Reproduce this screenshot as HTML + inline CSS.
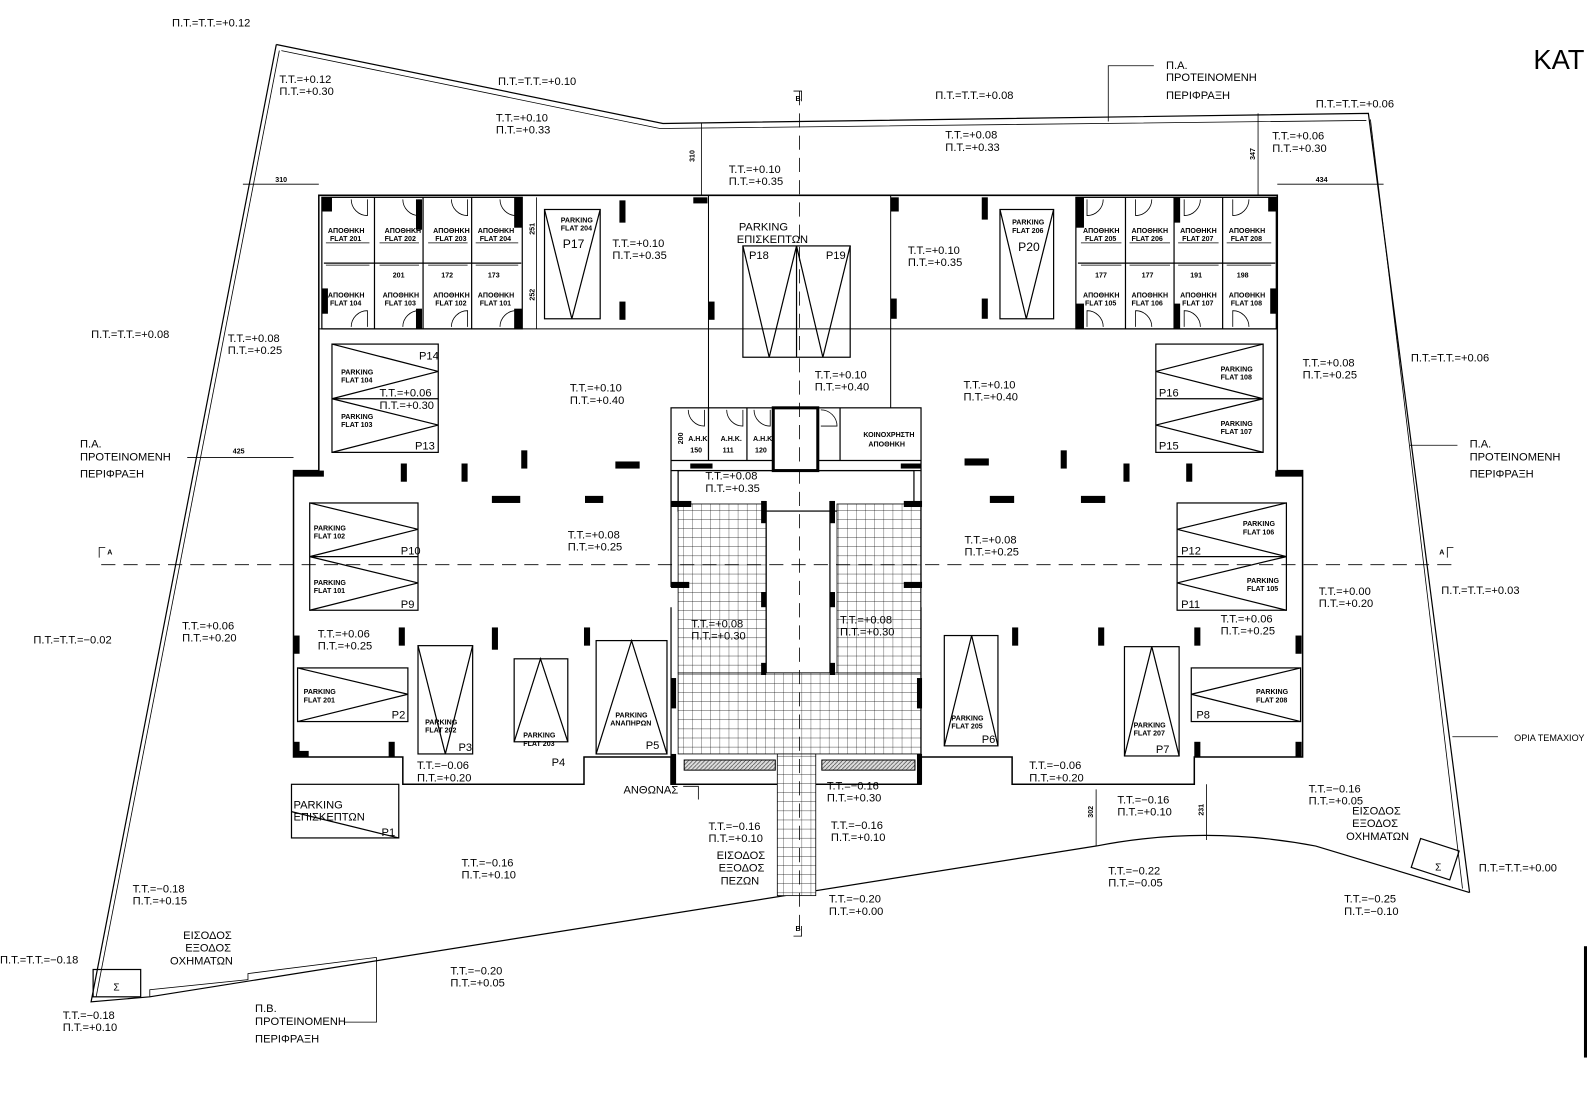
<!DOCTYPE html>
<html><head><meta charset="utf-8"><style>
html,body{margin:0;padding:0;background:#fff}
svg{display:block}
text{font-family:"Liberation Sans",sans-serif;font-size:11px;fill:#000}
.s{font-size:7px;font-weight:bold}
.m{font-size:9px}
.b{font-size:12px}
</style></head><body>
<svg width="1587" height="1096" viewBox="0 0 1568 1083" preserveAspectRatio="none" xmlns="http://www.w3.org/2000/svg">
<defs>
<pattern id="tile" width="9" height="9" patternUnits="userSpaceOnUse">
<rect width="9" height="9" fill="#fff"/><path d="M0 0H9M0 0V9" stroke="#000" stroke-width="0.6"/>
</pattern>
<pattern id="hat" width="4" height="4" patternUnits="userSpaceOnUse"><rect width="4" height="4" fill="#ddd"/><path d="M0 4L4 0" stroke="#555" stroke-width="0.8"/></pattern>
</defs>
<g fill="none" stroke="#000" stroke-width="1.2">
<path d="M273 44 L655 122 L1352 112 L1452 882 M1452 882 L1300 836 Q1190 815 1083 836 L148 985 L90 990 L273 44"/>
<path d="M278 50 L652 127 L1350 119" stroke-width="0.8"/>
<path d="M1354 118 L1445 878" stroke-width="0.8"/>
<path d="M95 985 L276 50" stroke-width="0.8"/>
<path d="M148 985 L148 978 L245 968 L245 962 L372 946" stroke-width="0.8"/>
<rect x="92" y="958" width="47" height="27"/>
<rect x="1398" y="834" width="40" height="30" transform="rotate(18 1418 849)"/>
<path d="M315 193 H1262 V465 H1287 V748 H1180 V775 H1000 V748 H910 V775 H663 V748 H577 V775 H398 V748 H290 V465 H315 Z" stroke-width="1.5"/>
<path d="M315 325 H1262" stroke-width="1"/>
<path d="M700 193 V403 M880 193 V403" stroke-width="1"/>
<rect x="318" y="195" width="198" height="130"/>
<path d="M320 260 H515 M370 195 V325 M418 195 V325 M466 195 V325"/>
<path d="M322 240 H365 M375 240 H414 M423 240 H462 M470 240 H512 M322 262 H365 M375 262 H414 M423 262 H462 M470 262 H512" stroke-width="0.7"/>
<rect x="1063" y="195" width="198" height="130"/>
<path d="M1065 260 H1260 M1112 195 V325 M1160 195 V325 M1208 195 V325"/>
<path d="M1068 240 H1108 M1116 240 H1156 M1164 240 H1204 M1212 240 H1256 M1068 262 H1108 M1116 262 H1156 M1164 262 H1204 M1212 262 H1256" stroke-width="0.7"/>
<g stroke-width="0.8">
<path d="M347 197 A16 16 0 0 0 363 213 V197"/><path d="M398 197 A16 16 0 0 0 414 213 V197"/><path d="M446 197 A16 16 0 0 0 462 213 V197"/><path d="M494 197 A16 16 0 0 0 510 213 V197"/>
<path d="M347 323 A16 16 0 0 1 363 307 V323"/><path d="M398 323 A16 16 0 0 1 414 307 V323"/><path d="M446 323 A16 16 0 0 1 462 307 V323"/><path d="M494 323 A16 16 0 0 1 510 307 V323"/>
<path d="M1090 197 A16 16 0 0 1 1074 213 V197"/><path d="M1138 197 A16 16 0 0 1 1122 213 V197"/><path d="M1186 197 A16 16 0 0 1 1170 213 V197"/><path d="M1234 197 A16 16 0 0 1 1218 213 V197"/>
<path d="M1090 323 A16 16 0 0 0 1074 307 V323"/><path d="M1138 323 A16 16 0 0 0 1122 307 V323"/><path d="M1186 323 A16 16 0 0 0 1170 307 V323"/><path d="M1234 323 A16 16 0 0 0 1218 307 V323"/>
<path d="M680 405 A16 16 0 0 0 696 421 V405"/><path d="M718 405 A16 16 0 0 0 734 421 V405"/><path d="M745 405 A16 16 0 0 0 761 421 V405"/><path d="M811 405 A16 16 0 0 1 827 421 H811"/>
<path d="M698 500 A16 16 0 0 1 714 516 H698 V500"/><path d="M875 520 A16 16 0 0 0 891 536 V520"/>
</g>
<rect x="663" y="403" width="247" height="62"/>
<path d="M700 403 V455 M738 403 V455 M765 403 V465 M808 403 V465 M830 403 V455 M663 455 H910"/>
<rect x="670" y="465" width="233" height="40"/>
<path d="M663 465 V580 M910 465 V580 M663 600 V775 M910 600 V775 M757 495 V665 M820 495 V665 M757 665 H820"/>
<rect x="538" y="207" width="55" height="108"/><path d="M538 207 L565 315 L593 207"/>
<rect x="734" y="243" width="106" height="110"/><path d="M787 243 V353 M734 243 L760 353 L787 243 M787 243 L813 353 L840 243"/>
<rect x="988" y="207" width="53" height="108"/><path d="M988 207 L1014 315 L1041 207"/>
<rect x="328" y="340" width="105" height="107"/><path d="M328 394 H433 M328 340 L433 367 L328 394 L433 420 L328 447"/>
<rect x="1142" y="340" width="106" height="107"/><path d="M1142 394 H1248 M1248 340 L1142 367 L1248 394 L1142 420 L1248 447"/>
<rect x="306" y="497" width="107" height="106"/><path d="M306 550 H413 M306 497 L413 523 L306 550 L413 576 L306 603"/>
<rect x="1163" y="497" width="108" height="106"/><path d="M1163 550 H1271 M1271 497 L1163 523 L1271 550 L1163 576 L1271 603"/>
<rect x="294" y="660" width="109" height="53"/><path d="M294 660 L403 686 L294 713"/>
<rect x="413" y="638" width="54" height="107"/><path d="M413 638 L440 745 L467 638"/>
<rect x="508" y="651" width="53" height="82"/><path d="M508 733 L534 651 L561 733"/>
<rect x="589" y="633" width="70" height="112"/><path d="M589 745 L624 633 L659 745"/>
<rect x="933" y="628" width="53" height="109"/><path d="M933 737 L960 628 L986 737"/>
<rect x="1111" y="639" width="54" height="108"/><path d="M1111 747 L1138 639 L1165 747"/>
<rect x="1177" y="660" width="108" height="53"/><path d="M1285 660 L1177 686 L1285 713"/>
<rect x="288" y="775" width="106" height="53"/><path d="M288 802 L394 828" />
<path d="M1095 120 V65 H1140 M185 452 H290 M240 182 H315 M1262 182 H1367 M693 122 V193 M1243 112 V193 M1083 780 V836 M1192 775 V830 M1393 440 H1440 M1435 728 H1480 M372 946 V1010 H340 M675 777 H690 V790 M530 195 V325" stroke-width="0.8"/>
</g>
<rect x="670" y="498" width="87" height="167" fill="url(#tile)" stroke="#000" stroke-width="0.8"/>
<rect x="827" y="498" width="83" height="167" fill="url(#tile)" stroke="#000" stroke-width="0.8"/>
<rect x="670" y="665" width="240" height="80" fill="url(#tile)" stroke="#000" stroke-width="0.8"/>
<rect x="768" y="745" width="38" height="140" fill="url(#tile)" stroke="#000" stroke-width="0.8"/>
<rect x="676" y="751" width="90" height="10" fill="url(#hat)" stroke="#000"/>
<rect x="812" y="751" width="92" height="10" fill="url(#hat)" stroke="#000"/>
<rect x="764" y="403" width="44" height="62" fill="#fff" stroke="#000" stroke-width="3"/>
<g stroke="#000" stroke-width="0.8" stroke-dasharray="14,8" fill="none">
<path d="M100 558 H1435"/><path d="M790 90 V925"/>
</g>
<path d="M98 551 V541 H104 M1430 551 V541 H1436 M784 90 H792 V100 M784 925 H792 V915" stroke="#000" fill="none" stroke-width="0.8"/>
<g fill="#000">
<rect x="318" y="195" width="10" height="14"/><rect x="318" y="285" width="6" height="25"/><rect x="411" y="197" width="6" height="30"/><rect x="411" y="305" width="6" height="20"/><rect x="508" y="195" width="8" height="30"/><rect x="508" y="305" width="8" height="20"/>
<rect x="612" y="198" width="6" height="22"/><rect x="612" y="298" width="6" height="18"/><rect x="685" y="195" width="14" height="6"/><rect x="700" y="298" width="6" height="18"/>
<rect x="880" y="195" width="8" height="14"/><rect x="970" y="195" width="6" height="22"/><rect x="970" y="295" width="6" height="20"/><rect x="880" y="295" width="6" height="20"/>
<rect x="1063" y="195" width="8" height="30"/><rect x="1063" y="300" width="8" height="25"/><rect x="1160" y="195" width="6" height="25"/><rect x="1160" y="300" width="6" height="25"/><rect x="1253" y="195" width="8" height="14"/><rect x="1255" y="285" width="6" height="25"/>
<rect x="290" y="465" width="30" height="6"/><rect x="1260" y="465" width="27" height="6"/>
<rect x="396" y="458" width="6" height="18"/><rect x="456" y="458" width="6" height="18"/><rect x="515" y="445" width="6" height="18"/><rect x="608" y="456" width="24" height="7"/><rect x="486" y="490" width="28" height="7"/><rect x="578" y="490" width="18" height="7"/>
<rect x="953" y="453" width="24" height="7"/><rect x="1048" y="445" width="6" height="18"/><rect x="1110" y="458" width="6" height="18"/><rect x="1172" y="458" width="6" height="18"/><rect x="978" y="490" width="24" height="7"/><rect x="1068" y="490" width="24" height="7"/>
<rect x="290" y="628" width="6" height="18"/><rect x="394" y="620" width="6" height="18"/><rect x="486" y="620" width="6" height="22"/><rect x="577" y="620" width="6" height="18"/>
<rect x="1000" y="620" width="6" height="18"/><rect x="1085" y="620" width="6" height="18"/><rect x="1180" y="620" width="6" height="18"/><rect x="1280" y="628" width="6" height="18"/>
<rect x="290" y="733" width="6" height="15"/><rect x="290" y="742" width="15" height="6"/><rect x="384" y="733" width="6" height="15"/><rect x="1180" y="733" width="6" height="15"/><rect x="1280" y="733" width="6" height="15"/>
<rect x="663" y="575" width="18" height="6"/><rect x="893" y="575" width="18" height="6"/><rect x="663" y="670" width="5" height="30"/><rect x="906" y="670" width="5" height="30"/><rect x="663" y="745" width="5" height="30"/><rect x="906" y="745" width="5" height="30"/>
<rect x="663" y="495" width="20" height="6"/><rect x="893" y="495" width="18" height="6"/><rect x="752" y="495" width="5" height="22"/><rect x="820" y="495" width="5" height="22"/><rect x="752" y="585" width="5" height="15"/><rect x="820" y="585" width="5" height="15"/><rect x="752" y="655" width="5" height="12"/><rect x="820" y="655" width="5" height="12"/>
<rect x="682" y="458" width="22" height="5"/><rect x="890" y="458" width="20" height="5"/><rect x="1565" y="935" width="3" height="110"/>
</g>
<text x="170" y="26">Π.Τ.=Τ.Τ.=+0.12</text>
<text x="1515" y="68" style="font-size:27px">ΚΑΤ</text>
<text x="276" y="82">Τ.Τ.=+0.12</text><text x="276" y="94">Π.Τ.=+0.30</text>
<text x="492" y="84">Π.Τ.=Τ.Τ.=+0.10</text>
<text x="490" y="120">Τ.Τ.=+0.10</text><text x="490" y="132">Π.Τ.=+0.33</text>
<text x="924" y="98">Π.Τ.=Τ.Τ.=+0.08</text>
<text x="1152" y="68">Π.Α.</text><text x="1152" y="80">ΠΡΟΤΕΙΝΟΜΕΝΗ</text><text x="1152" y="98">ΠΕΡΙΦΡΑΞΗ</text>
<text x="1300" y="106">Π.Τ.=Τ.Τ.=+0.06</text>
<text x="934" y="137">Τ.Τ.=+0.08</text><text x="934" y="149">Π.Τ.=+0.33</text>
<text x="1257" y="138">Τ.Τ.=+0.06</text><text x="1257" y="150">Π.Τ.=+0.30</text>
<text x="720" y="171">Τ.Τ.=+0.10</text><text x="720" y="183">Π.Τ.=+0.35</text>
<text x="272" y="180" class="s">310</text><text x="1300" y="180" class="s">434</text>
<text x="686" y="160" class="s" transform="rotate(-90 686 160)">310</text>
<text x="1240" y="158" class="s" transform="rotate(-90 1240 158)">347</text>
<text x="528" y="232" class="s" transform="rotate(-90 528 232)">251</text>
<text x="528" y="297" class="s" transform="rotate(-90 528 297)">252</text>
<text x="324" y="230" class="s">ΑΠΟΘΗΚΗ</text><text x="326" y="238" class="s">FLAT 201</text>
<text x="380" y="230" class="s">ΑΠΟΘΗΚΗ</text><text x="380" y="238" class="s">FLAT 202</text>
<text x="428" y="230" class="s">ΑΠΟΘΗΚΗ</text><text x="430" y="238" class="s">FLAT 203</text>
<text x="472" y="230" class="s">ΑΠΟΘΗΚΗ</text><text x="474" y="238" class="s">FLAT 204</text>
<text x="324" y="294" class="s">ΑΠΟΘΗΚΗ</text><text x="326" y="302" class="s">FLAT 104</text>
<text x="378" y="294" class="s">ΑΠΟΘΗΚΗ</text><text x="380" y="302" class="s">FLAT 103</text>
<text x="428" y="294" class="s">ΑΠΟΘΗΚΗ</text><text x="430" y="302" class="s">FLAT 102</text>
<text x="472" y="294" class="s">ΑΠΟΘΗΚΗ</text><text x="474" y="302" class="s">FLAT 101</text>
<text x="388" y="274" class="s">201</text><text x="436" y="274" class="s">172</text><text x="482" y="274" class="s">173</text>
<text x="1070" y="230" class="s">ΑΠΟΘΗΚΗ</text><text x="1072" y="238" class="s">FLAT 205</text>
<text x="1118" y="230" class="s">ΑΠΟΘΗΚΗ</text><text x="1118" y="238" class="s">FLAT 206</text>
<text x="1166" y="230" class="s">ΑΠΟΘΗΚΗ</text><text x="1168" y="238" class="s">FLAT 207</text>
<text x="1214" y="230" class="s">ΑΠΟΘΗΚΗ</text><text x="1216" y="238" class="s">FLAT 208</text>
<text x="1070" y="294" class="s">ΑΠΟΘΗΚΗ</text><text x="1072" y="302" class="s">FLAT 105</text>
<text x="1118" y="294" class="s">ΑΠΟΘΗΚΗ</text><text x="1118" y="302" class="s">FLAT 106</text>
<text x="1166" y="294" class="s">ΑΠΟΘΗΚΗ</text><text x="1168" y="302" class="s">FLAT 107</text>
<text x="1214" y="294" class="s">ΑΠΟΘΗΚΗ</text><text x="1216" y="302" class="s">FLAT 108</text>
<text x="1082" y="274" class="s">177</text><text x="1128" y="274" class="s">177</text><text x="1176" y="274" class="s">191</text><text x="1222" y="274" class="s">198</text>
<text x="554" y="220" class="s">PARKING</text><text x="554" y="228" class="s">FLAT 204</text><text x="556" y="245" class="b">P17</text>
<text x="605" y="244">Τ.Τ.=+0.10</text><text x="605" y="256">Π.Τ.=+0.35</text>
<text x="730" y="228">PARKING</text><text x="728" y="240">ΕΠΙΣΚΕΠΤΩΝ</text>
<text x="740" y="256">P18</text><text x="816" y="256">P19</text>
<text x="1000" y="222" class="s">PARKING</text><text x="1000" y="230" class="s">FLAT 206</text><text x="1006" y="248" class="b">P20</text>
<text x="897" y="251">Τ.Τ.=+0.10</text><text x="897" y="263">Π.Τ.=+0.35</text>
<text x="90" y="334">Π.Τ.=Τ.Τ.=+0.08</text>
<text x="225" y="338">Τ.Τ.=+0.08</text><text x="225" y="350">Π.Τ.=+0.25</text>
<text x="1287" y="362">Τ.Τ.=+0.08</text><text x="1287" y="374">Π.Τ.=+0.25</text>
<text x="1394" y="357">Π.Τ.=Τ.Τ.=+0.06</text>
<text x="337" y="370" class="s">PARKING</text><text x="337" y="378" class="s">FLAT 104</text><text x="414" y="355">P14</text>
<text x="375" y="392">Τ.Τ.=+0.06</text><text x="375" y="404">Π.Τ.=+0.30</text>
<text x="337" y="414" class="s">PARKING</text><text x="337" y="422" class="s">FLAT 103</text><text x="410" y="444">P13</text>
<text x="1206" y="367" class="s">PARKING</text><text x="1206" y="375" class="s">FLAT 108</text><text x="1145" y="392">P16</text>
<text x="1206" y="421" class="s">PARKING</text><text x="1206" y="429" class="s">FLAT 107</text><text x="1145" y="444">P15</text>
<text x="563" y="387">Τ.Τ.=+0.10</text><text x="563" y="399">Π.Τ.=+0.40</text>
<text x="805" y="374">Τ.Τ.=+0.10</text><text x="805" y="386">Π.Τ.=+0.40</text>
<text x="952" y="384">Τ.Τ.=+0.10</text><text x="952" y="396">Π.Τ.=+0.40</text>
<text x="79" y="442">Π.Α.</text><text x="79" y="455">ΠΡΟΤΕΙΝΟΜΕΝΗ</text><text x="79" y="472">ΠΕΡΙΦΡΑΞΗ</text>
<text x="230" y="448" class="s">425</text>
<text x="1452" y="442">Π.Α.</text><text x="1452" y="455">ΠΡΟΤΕΙΝΟΜΕΝΗ</text><text x="1452" y="472">ΠΕΡΙΦΡΑΞΗ</text>
<text x="680" y="436" class="s">Α.Η.Κ.</text><text x="682" y="447" class="s">150</text>
<text x="712" y="436" class="s">Α.Η.Κ.</text><text x="714" y="447" class="s">111</text>
<text x="744" y="436" class="s">Α.Η.Κ.</text><text x="746" y="447" class="s">120</text>
<text x="672" y="436" class="s" transform="rotate(-90 675 436)">200</text>
<text x="853" y="432" class="s">ΚΟΙΝΟΧΡΗΣΤΗ</text><text x="858" y="441" class="s">ΑΠΟΘΗΚΗ</text>
<text x="697" y="474">Τ.Τ.=+0.08</text><text x="697" y="486">Π.Τ.=+0.35</text>
<text x="310" y="524" class="s">PARKING</text><text x="310" y="532" class="s">FLAT 102</text><text x="396" y="548">P10</text>
<text x="310" y="578" class="s">PARKING</text><text x="310" y="586" class="s">FLAT 101</text><text x="396" y="601">P9</text>
<text x="1228" y="520" class="s">PARKING</text><text x="1228" y="528" class="s">FLAT 106</text><text x="1167" y="548">P12</text>
<text x="1232" y="576" class="s">PARKING</text><text x="1232" y="584" class="s">FLAT 105</text><text x="1167" y="601">P11</text>
<text x="561" y="532">Τ.Τ.=+0.08</text><text x="561" y="544">Π.Τ.=+0.25</text>
<text x="953" y="537">Τ.Τ.=+0.08</text><text x="953" y="549">Π.Τ.=+0.25</text>
<text x="1303" y="588">Τ.Τ.=+0.00</text><text x="1303" y="600">Π.Τ.=+0.20</text>
<text x="1424" y="587">Π.Τ.=Τ.Τ.=+0.03</text>
<text x="1206" y="615">Τ.Τ.=+0.06</text><text x="1206" y="627">Π.Τ.=+0.25</text>
<text x="180" y="622">Τ.Τ.=+0.06</text><text x="180" y="634">Π.Τ.=+0.20</text>
<text x="33" y="636">Π.Τ.=Τ.Τ.=−0.02</text>
<text x="314" y="630">Τ.Τ.=+0.06</text><text x="314" y="642">Π.Τ.=+0.25</text>
<text x="683" y="620">Τ.Τ.=+0.08</text><text x="683" y="632">Π.Τ.=+0.30</text>
<text x="830" y="616">Τ.Τ.=+0.08</text><text x="830" y="628">Π.Τ.=+0.30</text>
<text x="300" y="686" class="s">PARKING</text><text x="300" y="694" class="s">FLAT 201</text><text x="387" y="710">P2</text>
<text x="420" y="716" class="s">PARKING</text><text x="420" y="724" class="s">FLAT 202</text><text x="453" y="742">P3</text>
<text x="517" y="729" class="s">PARKING</text><text x="517" y="737" class="s">FLAT 203</text><text x="545" y="757">P4</text>
<text x="608" y="709" class="s">PARKING</text><text x="603" y="717" class="s">ΑΝΑΠΗΡΩΝ</text><text x="638" y="740">P5</text>
<text x="940" y="712" class="s">PARKING</text><text x="940" y="720" class="s">FLAT 205</text><text x="970" y="734">P6</text>
<text x="1120" y="719" class="s">PARKING</text><text x="1120" y="727" class="s">FLAT 207</text><text x="1142" y="744">P7</text>
<text x="1241" y="686" class="s">PARKING</text><text x="1241" y="694" class="s">FLAT 208</text><text x="1182" y="710">P8</text>
<text x="1496" y="732" class="m">ΟΡΙΑ ΤΕΜΑΧΙΟΥ</text>
<text x="412" y="760">Τ.Τ.=−0.06</text><text x="412" y="772">Π.Τ.=+0.20</text>
<text x="1017" y="760">Τ.Τ.=−0.06</text><text x="1017" y="772">Π.Τ.=+0.20</text>
<text x="616" y="784">ΑΝΘΩΝΑΣ</text>
<text x="817" y="780">Τ.Τ.=−0.16</text><text x="817" y="792">Π.Τ.=+0.30</text>
<text x="290" y="799">PARKING</text><text x="290" y="811">ΕΠΙΣΚΕΠΤΩΝ</text><text x="377" y="826">P1</text>
<text x="1293" y="783">Τ.Τ.=−0.16</text><text x="1293" y="795">Π.Τ.=+0.05</text>
<text x="1104" y="794">Τ.Τ.=−0.16</text><text x="1104" y="806">Π.Τ.=+0.10</text>
<text x="1336" y="805">ΕΙΣΟΔΟΣ</text><text x="1336" y="817">ΕΞΟΔΟΣ</text><text x="1330" y="830">ΟΧΗΜΑΤΩΝ</text>
<text x="1080" y="808" class="s" transform="rotate(-90 1080 808)">302</text>
<text x="1189" y="806" class="s" transform="rotate(-90 1189 806)">231</text>
<text x="700" y="820">Τ.Τ.=−0.16</text><text x="700" y="832">Π.Τ.=+0.10</text>
<text x="821" y="819">Τ.Τ.=−0.16</text><text x="821" y="831">Π.Τ.=+0.10</text>
<text x="708" y="849">ΕΙΣΟΔΟΣ</text><text x="710" y="861">ΕΞΟΔΟΣ</text><text x="712" y="874">ΠΕΖΩΝ</text>
<text x="456" y="856">Τ.Τ.=−0.16</text><text x="456" y="868">Π.Τ.=+0.10</text>
<text x="1461" y="861">Π.Τ.=Τ.Τ.=+0.00</text>
<text x="1095" y="864">Τ.Τ.=−0.22</text><text x="1095" y="876">Π.Τ.=−0.05</text>
<text x="1418" y="860" style="font-size:10px">Σ</text>
<text x="131" y="882">Τ.Τ.=−0.18</text><text x="131" y="894">Π.Τ.=+0.15</text>
<text x="819" y="892">Τ.Τ.=−0.20</text><text x="819" y="904">Π.Τ.=+0.00</text>
<text x="1328" y="892">Τ.Τ.=−0.25</text><text x="1328" y="904">Π.Τ.=−0.10</text>
<text x="181" y="928">ΕΙΣΟΔΟΣ</text><text x="183" y="940">ΕΞΟΔΟΣ</text><text x="168" y="953">ΟΧΗΜΑΤΩΝ</text>
<text x="0" y="952">Π.Τ.=Τ.Τ.=−0.18</text>
<text x="445" y="963">Τ.Τ.=−0.20</text><text x="445" y="975">Π.Τ.=+0.05</text>
<text x="112" y="979" style="font-size:10px">Σ</text>
<text x="62" y="1007">Τ.Τ.=−0.18</text><text x="62" y="1019">Π.Τ.=+0.10</text>
<text x="252" y="1000">Π.Β.</text><text x="252" y="1013">ΠΡΟΤΕΙΝΟΜΕΝΗ</text><text x="252" y="1030">ΠΕΡΙΦΡΑΞΗ</text>
<text x="786" y="100" class="s">B</text><text x="786" y="920" class="s">B</text>
<text x="106" y="548" class="s">A</text><text x="1422" y="548" class="s">A</text>
</svg>
</body></html>
